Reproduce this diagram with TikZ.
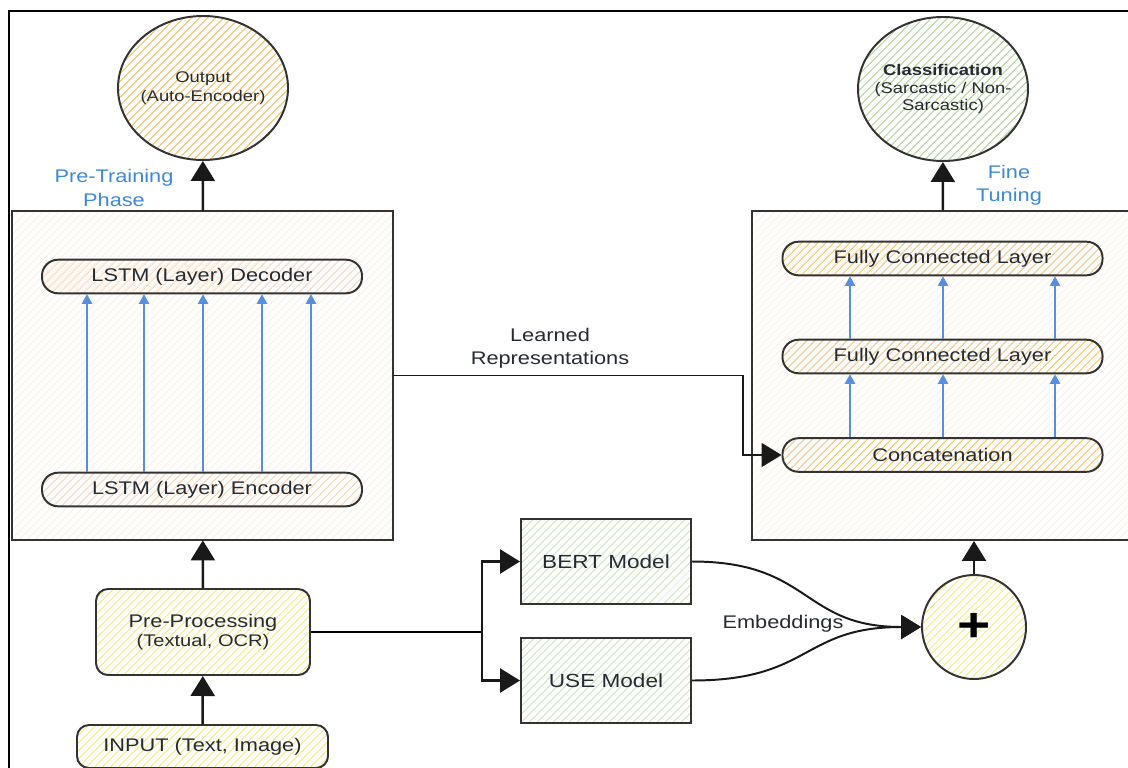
\documentclass[tikz,border=0pt]{standalone}
\usepackage{fontspec}
\setmainfont{Liberation Sans}[FakeStretch=1.19]
\usetikzlibrary{arrows.meta,patterns.meta,shapes.geometric}

\definecolor{hatchorange}{HTML}{F2B33D}
\definecolor{hatchpeach}{HTML}{F6CBA3}
\definecolor{hatchpale}{HTML}{FCE8D8}
\definecolor{hatchgreen}{HTML}{9CD27D}
\definecolor{hatchlime}{HTML}{C3E2AE}
\definecolor{hatchyellow}{HTML}{F3E66A}
\definecolor{phaseblue}{HTML}{3D88D8}
\definecolor{flowblue}{HTML}{5590E0}
\definecolor{linegray}{HTML}{333333}
\definecolor{textdark}{HTML}{262A33}

\tikzset{
  hatch/.style={pattern={Lines[angle=45,distance=4pt,line width=0.55pt]},pattern color=#1},
  block/.style={draw=linegray,line width=1.4pt,text=textdark,inner sep=0pt,align=center},
  frame/.style={block,hatch=hatchpale,minimum width=95.25mm,minimum height=82.25mm},
  layer/.style={block,rounded corners=4mm,minimum width=80mm,minimum height=8.4mm,
    font=\fontsize{13}{15}\selectfont},
  model/.style={block,minimum width=42.5mm,minimum height=21.25mm,hatch=hatchlime,
    font=\fontsize{13.5}{16}\selectfont},
  goal/.style={block,ellipse,inner xsep=-6mm,inner ysep=-2mm,
    minimum width=42.5mm,minimum height=36mm},
  link/.style={line width=1.8pt,draw=black!90,-{Triangle[length=5mm,width=6mm]}},
  flow/.style={line width=1pt,draw=flowblue,-{Triangle[length=2.4mm,width=2.6mm]}},
  phase/.style={text=phaseblue,align=center,font=\fontsize{13}{16.5}\selectfont},
  note/.style={text=textdark,align=center,font=\fontsize{13}{16.5}\selectfont},
}

\begin{document}
\begin{tikzpicture}[x=0.25mm,y=-0.25mm]
  \useasboundingbox (0,0) rectangle (1128,767);

  % outer frame
  \draw[line width=1.4pt] (1135,11) -- (9,11) -- (9,775);

  % pre-training part
  \node[frame] (pretrain) at (202.5,375.5) {};
  \node[layer,hatch=hatchpeach] (dec) at (202,276.5) {LSTM (Layer) Decoder};
  \node[layer,hatch=hatchpeach] (enc) at (202,489.5) {LSTM (Layer) Encoder};
  \foreach \x in {87,144,203,262,311}
    \draw[flow] (\x,0 |- enc.north) -- (\x,0 |- dec.south);

  \node[goal,hatch=hatchorange,font=\fontsize{11}{13.5}\selectfont] (out) at (203,88)
    {Output\\(Auto-Encoder)};
  \node[phase] (ptlabel) at (114,188) {Pre-Training\\Phase};

  % fine tuning part
  \node[frame] (fine) at (942.5,375.5) {};
  \node[layer,hatch=hatchorange] (fc2) at (942.5,258.5) {Fully Connected Layer};
  \node[layer,hatch=hatchorange] (fc1) at (942.5,356.5) {Fully Connected Layer};
  \node[layer,hatch=hatchorange] (cat) at (942.5,455) {Concatenation};
  \foreach \x in {850,943,1055} {
    \draw[flow] (\x,0 |- cat.north) -- (\x,0 |- fc1.south);
    \draw[flow] (\x,0 |- fc1.north) -- (\x,0 |- fc2.south);
  }

  \node[goal,hatch=hatchgreen,font=\fontsize{11}{12.8}\selectfont] (cls) at (943,89)
    {\textbf{Classification}\\(Sarcastic / Non-\\Sarcastic)};
  \node[phase] (ftlabel) at (1009,185) {Fine\\Tuning};

  % input side
  \node[block,rounded corners=3mm,hatch=hatchyellow,minimum width=53.5mm,minimum height=21.5mm]
    (prep) at (203,632)
    {\fontsize{13}{15}\selectfont Pre-Processing\\[1pt]\fontsize{12}{13}\selectfont(Textual, OCR)};
  \node[block,rounded corners=3mm,hatch=hatchyellow,minimum width=62.75mm,minimum height=10.75mm,
    font=\fontsize{13}{15}\selectfont] (inp) at (202.5,746.5) {INPUT (Text, Image)};

  \node[model] (bert) at (606,561.5) {BERT Model};
  \node[model] (use) at (606,680.5) {USE Model};
  \node[block,circle,hatch=hatchyellow,minimum size=26mm,
    font=\fontsize{34}{34}\bfseries\selectfont,text=black] (plus) at (974,627) {+};

  % connectors
  \draw[link] (inp) -- (prep);
  \draw[link] (prep) -- (pretrain);
  \draw[link] (pretrain) -- (out);
  \draw[link] (fine) -- (cls);
  \draw[link] (plus) -- (plus |- fine.south);

  \coordinate (split) at (482,632);
  \draw[line width=1.8pt] (prep.east) -- (split);
  \draw[link] (split) |- (bert.west);
  \draw[link] (split) |- (use.west);

  \draw[link,line width=1.4pt] (pretrain.east) -| (743,455) -- (cat.west);
  \node[note] (learned) at (550,348) {Learned\\Representations};

  \draw[link,line width=1.4pt] (bert.east) .. controls +(120,0) and +(-120,0) .. (plus.west);
  \draw[link,line width=1.4pt] (use.east) .. controls +(120,0) and +(-120,0) .. (plus.west);
  \node[note] (emb) at (783,624) {Embeddings};
\end{tikzpicture}
\end{document}
